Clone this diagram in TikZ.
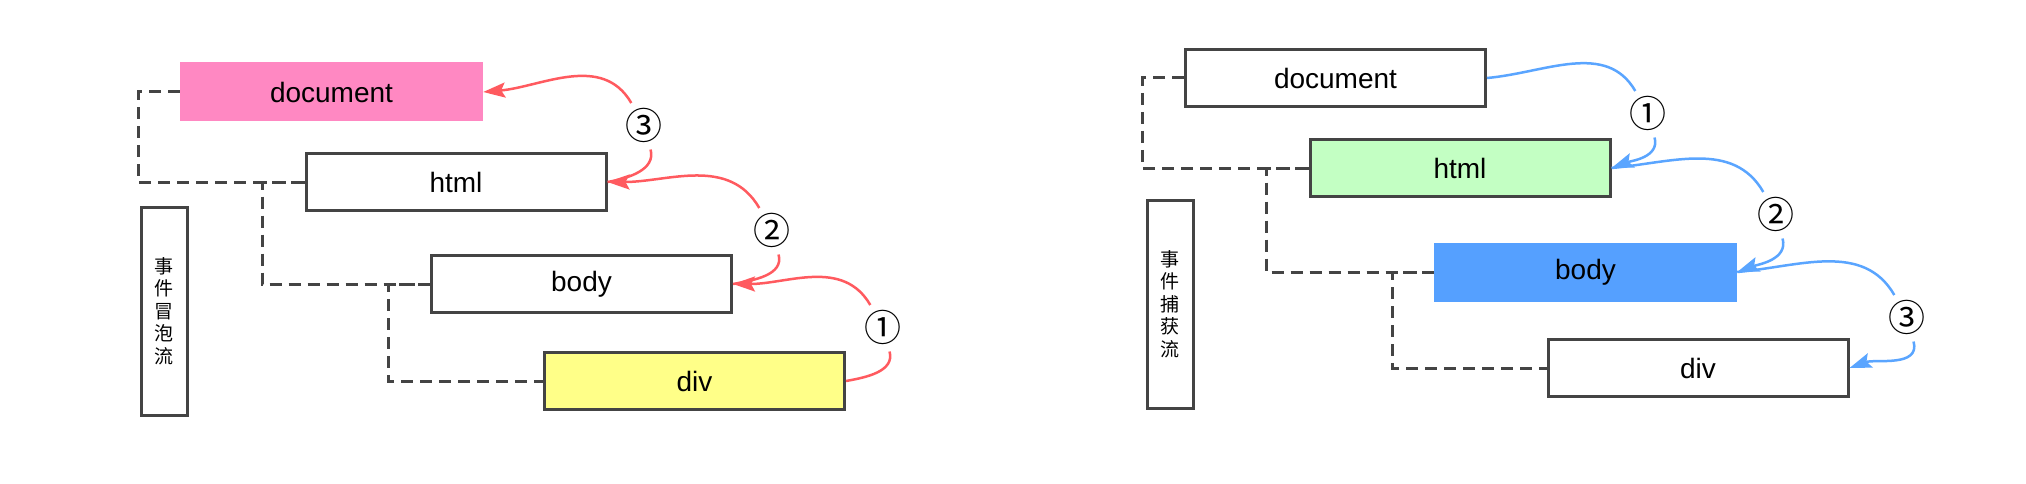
\documentclass[tikz,border=0pt]{standalone}
\usepackage{fontspec}
\setmainfont{Liberation Sans}
\newfontfamily\cjk{Noto Sans CJK SC}
\usetikzlibrary{arrows.meta}
\definecolor{boxgray}{HTML}{444444}
\definecolor{redc}{HTML}{FF5A5F}
\definecolor{bluec}{HTML}{5AA5FF}
\definecolor{pinkc}{HTML}{FF88C2}
\definecolor{yellowc}{HTML}{FFFF88}
\definecolor{greenc}{HTML}{C3FFC3}
\definecolor{bodyblue}{HTML}{55A0FF}
\begin{document}
\begin{tikzpicture}[x=1pt,y=-1pt,
  box/.style={draw=boxgray, line width=3pt, minimum width=300pt, minimum height=57pt, inner sep=0pt, font=\fontsize{28}{30}\selectfont},
  flat/.style={draw=none, minimum width=303pt, minimum height=59pt, inner sep=0pt, font=\fontsize{28}{30}\selectfont},
  side/.style={draw=boxgray, line width=3pt, minimum width=46pt, minimum height=208pt, inner sep=0pt, align=center, font=\cjk\fontsize{19}{22.5}\selectfont},
  tree/.style={draw=boxgray, line width=3pt, dash pattern=on 12pt off 7pt},
  num/.style={circle, inner sep=0pt, minimum size=37pt, font=\cjk\fontsize{37}{37}\selectfont},
  redflow/.style={draw=redc, line width=2.5pt, -{Stealth[length=22pt,width=15pt,inset=4pt]}},
  blueflow/.style={draw=bluec, line width=2.5pt, -{Stealth[length=22pt,width=15pt,inset=4pt]}}
]
\useasboundingbox[fill=white] (0,0) rectangle (2026,484);

% ---------- left: bubbling ----------
\node[flat, fill=pinkc] (d1) at (331.5,92) {document};
\node[box, fill=white] (h1) at (456,182) {html};
\node[box, fill=white] (b1) at (581.5,284) {body};
\node[box, fill=yellowc] (v1) at (694.5,381) {div};
\node[side] (s1) at (164,311) {事\\件\\冒\\泡\\流};

\coordinate (t1) at (138,0);
\coordinate (t2) at (262,0);
\coordinate (t3) at (388,0);
\draw[tree] (d1.west) -- (d1.west -| t1) |- (h1.west);
\draw[tree] (h1.west) -- (h1.west -| t2) |- (b1.west);
\draw[tree] (b1.west) -- (b1.west -| t3) |- (v1.west);

\node[num] (n1) at (883,327) {①};
\node[num] (n2) at (772,230) {②};
\node[num] (n3) at (644,125) {③};
\draw[redflow] (v1.east) to[out=10,in=-75] (n1) to[out=120,in=0] (b1.east);
\draw[redflow] (b1.east) to[out=10,in=-75] (n2) to[out=120,in=0] (h1.east);
\draw[redflow] (h1.east) to[out=10,in=-75] (n3) to[out=120,in=5] (d1.east);

% ---------- right: capturing ----------
\node[box, fill=white] (d2) at (1335.5,78) {document};
\node[box, fill=greenc] (h2) at (1460,168) {html};
\node[flat, fill=bodyblue] (b2) at (1585.5,272) {body};
\node[box, fill=white] (v2) at (1698,368) {div};
\node[side] (s2) at (1170,304) {事\\件\\捕\\获\\流};

\coordinate (t4) at (1142,0);
\coordinate (t5) at (1266,0);
\coordinate (t6) at (1392,0);
\draw[tree] (d2.west) -- (d2.west -| t4) |- (h2.west);
\draw[tree] (h2.west) -- (h2.west -| t5) |- (b2.west);
\draw[tree] (b2.west) -- (b2.west -| t6) |- (v2.west);

\node[num] (m1) at (1648,113) {①};
\node[num] (m2) at (1776,214) {②};
\node[num] (m3) at (1907,317) {③};
\draw[blueflow] (d2.east) to[out=5,in=120] (m1) to[out=-75,in=20] (h2.east);
\draw[blueflow] (h2.east) to[out=5,in=120] (m2) to[out=-75,in=20] (b2.east);
\draw[blueflow] (b2.east) to[out=5,in=120] (m3) to[out=-75,in=20] (v2.east);
\end{tikzpicture}
\end{document}
